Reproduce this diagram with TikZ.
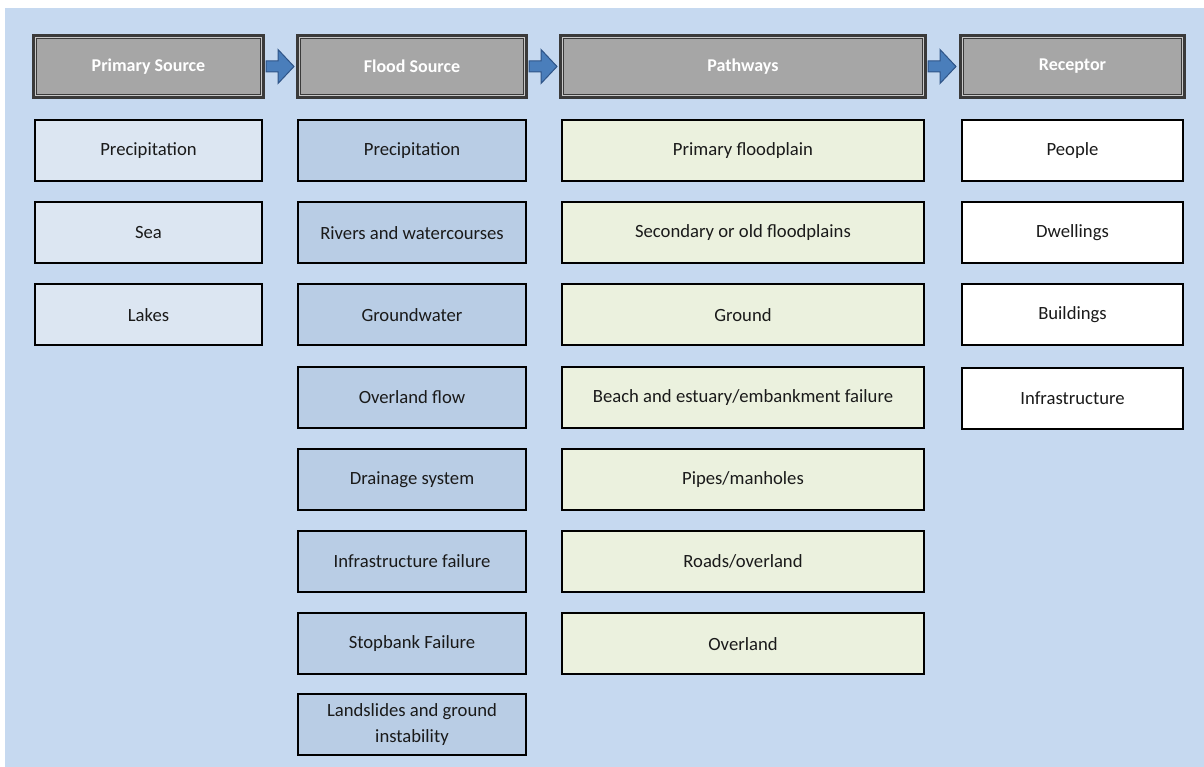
\documentclass[tikz,border=0pt]{standalone}
\usepackage{fontspec}
\setmainfont{Carlito}
\usetikzlibrary{calc}
\definecolor{bgblue}{HTML}{C6D9F0}
\definecolor{hdrgray}{HTML}{A6A6A6}
\definecolor{hdrline}{HTML}{3A3A3A}
\definecolor{hdrlight}{HTML}{C8C8C8}
\definecolor{primfill}{HTML}{DCE6F2}
\definecolor{floodfill}{HTML}{B9CDE5}
\definecolor{pathfill}{HTML}{EBF1DE}
\definecolor{arrfill}{HTML}{4A7EBB}
\definecolor{arrline}{HTML}{2F5487}
\definecolor{txt}{HTML}{1A1A1A}
\tikzset{
  hdr/.style={draw=hdrline, line width=3.75pt, fill=hdrgray, rectangle, inner sep=0pt, outer sep=0pt,
    minimum height=45pt, text=white, font=\fontsize{13.5}{16}\selectfont\bfseries},
  hdrinner/.style={draw=hdrlight, line width=0.75pt},
  box/.style={draw=black, line width=1.5pt, rectangle, inner sep=0pt, outer sep=0pt,
    minimum height=45.75pt, text=txt, align=center, font=\fontsize{14}{19}\selectfont},
  primbox/.style={box, fill=primfill, minimum width=170.25pt},
  floodbox/.style={box, fill=floodfill, minimum width=171pt},
  pathbox/.style={box, fill=pathfill, minimum width=271.5pt},
  recbox/.style={box, fill=white, minimum width=165.75pt},
  barrow/.style={fill=arrfill, draw=arrline, line width=0.75pt, line join=miter},
}
\begin{document}
\begin{tikzpicture}[x=0.75pt, y=-0.75pt]
\useasboundingbox (0,0) rectangle (1204,767);
\fill[bgblue] (5,8) rectangle (1204,767);

% headers
\node[hdr, minimum width=171pt] (h1) at (148.5,66.5) {Primary Source};
\node[hdr, minimum width=170.25pt] (h2) at (412,66.5) {Flood Source};
\node[hdr, minimum width=272.25pt] (h3) at (743,66.5) {Pathways};
\node[hdr, minimum width=166.5pt] (h4) at (1072.5,66.5) {Receptor};
\foreach \h in {h1,h2,h3,h4}{
  \draw[hdrinner] ($(\h.north west)+(1,1)$) rectangle ($(\h.south east)+(-1,-1)$);
}

% block arrows between headers
\foreach \a/\b in {h1/h2,h2/h3,h3/h4}{
  \draw[barrow] ($(\a.east)+(3.5,0)$) ++(0,-5.5) -- ++(12,0) -- ++(0,-11.5) -- ++(16,17)
     -- ++(-16,17) -- ++(0,-11.5) -- ++(-12,0) -- cycle;
}

% Primary Source column
\node[primbox] (p1) at (148.5,150.5) {Precipitation};
\node[primbox] (p2) at (148.5,232.7) {Sea};
\node[primbox] (p3) at (148.5,314.9) {Lakes};

% Flood Source column
\node[floodbox] (f1) at (412,150.5) {Precipitation};
\node[floodbox] (f2) at (412,232.7) {Rivers and watercourses};
\node[floodbox] (f3) at (412,314.9) {Groundwater};
\node[floodbox] (f4) at (412,397.1) {Overland flow};
\node[floodbox] (f5) at (412,479.3) {Drainage system};
\node[floodbox] (f6) at (412,561.5) {Infrastructure failure};
\node[floodbox] (f7) at (412,643.7) {Stopbank Failure};
\node[floodbox] (f8) at (412,724.5) {Landslides and ground\\instability};

% Pathways column
\node[pathbox] (w1) at (743,150.5) {Primary floodplain};
\node[pathbox] (w2) at (743,232.7) {Secondary or old floodplains};
\node[pathbox] (w3) at (743,314.9) {Ground};
\node[pathbox] (w4) at (743,397.1) {Beach and estuary/embankment failure};
\node[pathbox] (w5) at (743,479.3) {Pipes/manholes};
\node[pathbox] (w6) at (743,561.5) {Roads/overland};
\node[pathbox] (w7) at (743,643.7) {Overland};

% Receptor column
\node[recbox] (r1) at (1072.5,150.5) {People};
\node[recbox] (r2) at (1072.5,232.7) {Dwellings};
\node[recbox] (r3) at (1072.5,314.9) {Buildings};
\node[recbox] (r4) at (1072.5,398.5) {Infrastructure};
\end{tikzpicture}
\end{document}
